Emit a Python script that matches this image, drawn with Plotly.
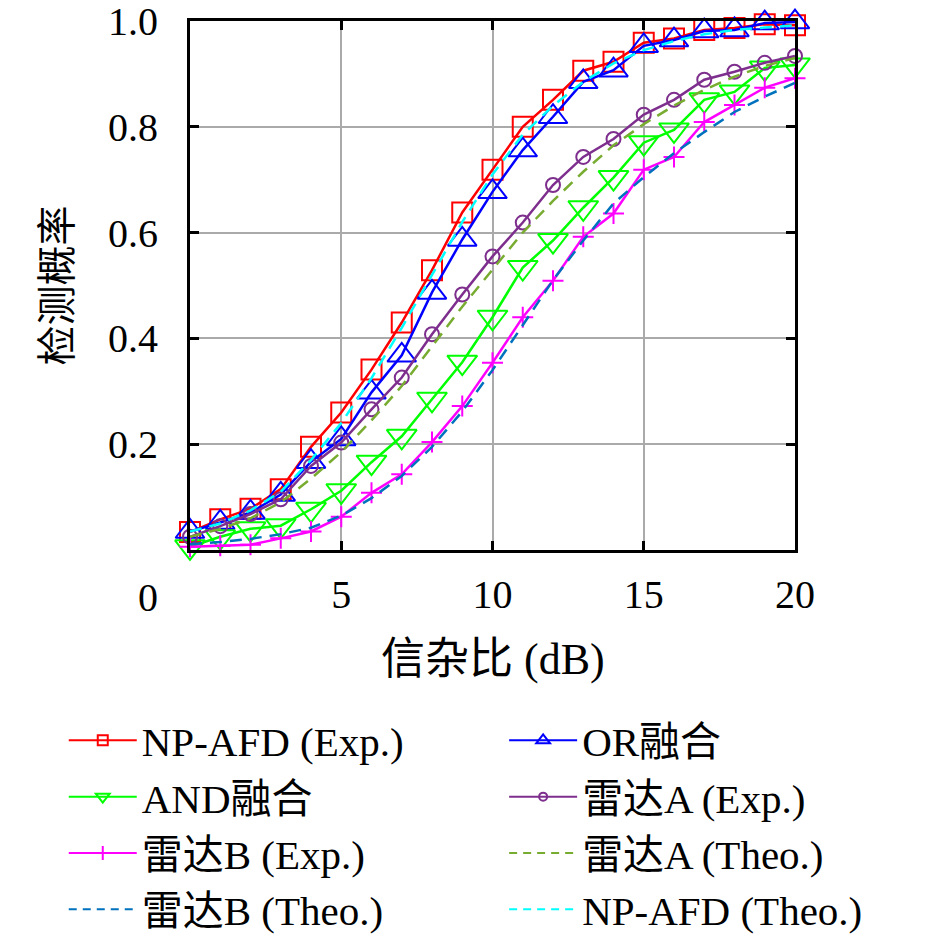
import plotly.graph_objects as go

# detection probability vs SCR
snr = list(range(0, 21))

np_afd_exp = [0.034, 0.058, 0.078, 0.115, 0.195, 0.26, 0.341, 0.43, 0.529, 0.638, 0.719,
              0.80, 0.851, 0.906, 0.923, 0.959, 0.967, 0.983, 0.987, 0.994, 0.992]
or_fusion = [0.035, 0.052, 0.071, 0.105, 0.167, 0.21, 0.298, 0.368, 0.487, 0.587, 0.677,
             0.756, 0.819, 0.885, 0.907, 0.953, 0.964, 0.981, 0.983, 0.996, 0.998]
and_fusion = [0.006, 0.025, 0.04, 0.046, 0.077, 0.112, 0.166, 0.215, 0.285, 0.355, 0.44,
              0.534, 0.585, 0.647, 0.704, 0.77, 0.794, 0.851, 0.866, 0.911, 0.917]
radar_a_exp = [0.025, 0.045, 0.068, 0.096, 0.159, 0.203, 0.266, 0.326, 0.408, 0.483, 0.555,
               0.619, 0.69, 0.743, 0.777, 0.823, 0.851, 0.889, 0.904, 0.921, 0.934]
radar_b_exp = [0.006, 0.008, 0.01, 0.022, 0.035, 0.063, 0.108, 0.143, 0.204, 0.272, 0.354,
               0.44, 0.509, 0.592, 0.636, 0.719, 0.743, 0.809, 0.841, 0.874, 0.892]
radar_a_theo = [0.025, 0.04, 0.06, 0.09, 0.135, 0.185, 0.245, 0.31, 0.385, 0.46, 0.53,
                0.60, 0.66, 0.715, 0.765, 0.805, 0.84, 0.87, 0.895, 0.915, 0.93]
radar_b_theo = [0.011, 0.015, 0.021, 0.03, 0.042, 0.065, 0.098, 0.14, 0.195, 0.262, 0.34,
                0.425, 0.51, 0.585, 0.655, 0.705, 0.75, 0.79, 0.828, 0.857, 0.883]
np_afd_theo = [0.035, 0.05, 0.075, 0.11, 0.17, 0.24, 0.325, 0.42, 0.52, 0.62, 0.71,
               0.785, 0.84, 0.885, 0.92, 0.945, 0.962, 0.975, 0.983, 0.988, 0.992]

x_ticks = [0, 5, 10, 15, 20]
x_ticktext = ["", "5", "10", "15", "20"]
y_ticks = [0.2, 0.4, 0.6, 0.8, 1.0]
y_ticktext = ["0.2", "0.4", "0.6", "0.8", "1.0"]

FONT = "Liberation Serif, Noto Sans CJK SC"

# name, y data, color, symbol, marker size, legend marker size, dashed?, legend column
series = [
    ("NP-AFD (Exp.)", np_afd_exp, "#FF0000", "square-open", 20, 10, False, "legend"),
    ("OR融合", or_fusion, "#0000FF", "triangle-up-open", 25, 12, False, "legend2"),
    ("AND融合", and_fusion, "#00FF00", "triangle-down-open", 26, 12, False, "legend"),
    ("雷达A (Exp.)", radar_a_exp, "#7E2F8E", "circle-open", 14, 8, False, "legend2"),
    ("雷达B (Exp.)", radar_b_exp, "#FF00FF", "cross-thin-open", 15, 10, False, "legend"),
    ("雷达A (Theo.)", radar_a_theo, "#77AC30", None, 0, 0, True, "legend2"),
    ("雷达B (Theo.)", radar_b_theo, "#0072BD", None, 0, 0, True, "legend"),
    ("NP-AFD (Theo.)", np_afd_theo, "#00FFFF", None, 0, 0, True, "legend2"),
]

fig = go.Figure()

for name, ys, color, sym, msize, lsize, dashed, leg in series:
    line = dict(color=color, width=2.5, dash="12px,8px" if dashed else "solid")
    if sym is None:
        fig.add_trace(go.Scatter(x=snr, y=ys, mode="lines", line=line,
                                 showlegend=False, cliponaxis=False))
    else:
        fig.add_trace(go.Scatter(x=snr, y=ys, mode="lines+markers", line=line,
                                 marker=dict(symbol=sym, size=msize, color=color,
                                             line=dict(color=color, width=2)),
                                 showlegend=False, cliponaxis=False))

# legend-only entries with smaller symbols, two columns as in the original
for name, ys, color, sym, msize, lsize, dashed, leg in series:
    line = dict(color=color, width=2, dash="8px,6px" if dashed else "solid")
    if sym is None:
        fig.add_trace(go.Scatter(x=[None], y=[None], mode="lines", line=line,
                                 name=name, legend=leg))
    else:
        fig.add_trace(go.Scatter(x=[None], y=[None], mode="lines+markers", line=line,
                                 marker=dict(symbol=sym, size=lsize, color=color,
                                             line=dict(color=color, width=2)),
                                 name=name, legend=leg))

leg_style = dict(xref="container", yref="container", y=0.253,
                 xanchor="left", yanchor="top", itemwidth=68,
                 font=dict(family=FONT, size=41), tracegroupgap=0,
                 bgcolor="rgba(0,0,0,0)")

# the page puts the figure 8px in from the corner, margins make up for it
fig.update_layout(
    width=945, height=936,
    margin=dict(l=182, r=158, t=13, b=394, autoexpand=False),
    paper_bgcolor="white", plot_bgcolor="white",
    font=dict(family=FONT, size=40, color="black"),
    legend=dict(x=0.059, **leg_style),
    legend2=dict(x=0.525, **leg_style),
)

fig.update_xaxes(range=[0, 20], tickvals=x_ticks, ticktext=x_ticktext,
                 showgrid=True, gridcolor="#aaaaaa", gridwidth=1.5,
                 showline=True, linecolor="black", linewidth=3, mirror="ticks",
                 ticks="inside", ticklen=9, tickwidth=3, tickcolor="black",
                 ticklabelstandoff=7, ticklabeloverflow="allow", zeroline=False,
                 tickfont=dict(family=FONT, size=40))
fig.update_yaxes(range=[0, 1], tickvals=y_ticks, ticktext=y_ticktext,
                 showgrid=True, gridcolor="#aaaaaa", gridwidth=1.5,
                 showline=True, linecolor="black", linewidth=3, mirror="ticks",
                 ticks="inside", ticklen=9, tickwidth=3, tickcolor="black",
                 ticklabelstandoff=21, ticklabeloverflow="allow", zeroline=False,
                 tickfont=dict(family=FONT, size=40))

# "0" label sits left of the box corner in the original
fig.add_annotation(x=-0.09, y=0, xref="paper", yref="paper", text="0", showarrow=False,
                   yanchor="middle", yshift=-47, font=dict(family=FONT, size=40))

# axis titles
fig.add_annotation(x=0.5, y=0, xref="paper", yref="paper", text="信杂比 (dB)",
                   showarrow=False, yanchor="middle", yshift=-109,
                   font=dict(family=FONT, size=44))
fig.add_annotation(x=0, y=0.5, xref="paper", yref="paper", text="检测概率",
                   showarrow=False, textangle=-90, xanchor="center", xshift=-133,
                   font=dict(family=FONT, size=40))

fig.write_html("out.html")
